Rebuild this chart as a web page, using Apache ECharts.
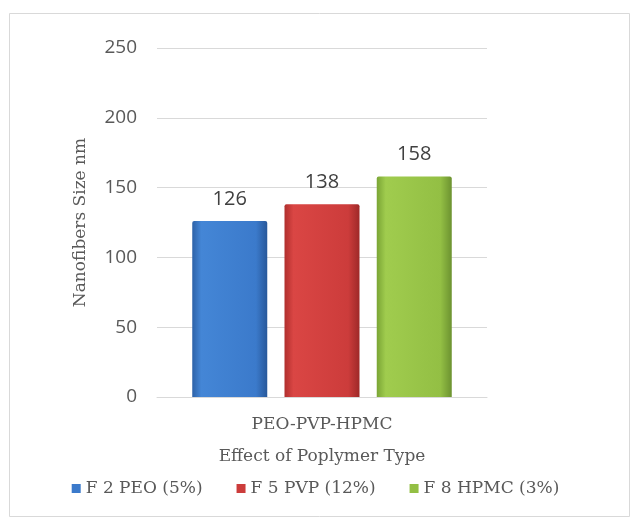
<!DOCTYPE html>
<html>
<head>
<meta charset="utf-8">
<script src="https://cdn.jsdelivr.net/npm/echarts@6/dist/echarts.min.js"></script>
<style>html,body{margin:0;padding:0;background:#fff;}#c{width:631px;height:518px;}</style>
</head>
<body>
<div id="c"></div>
<script>
const categories = ["PEO-PVP-HPMC"];
const seriesNames = ["F 2 PEO (5%)", "F 5 PVP (12%)", "F 8 HPMC (3%)"];
const peo = [126];
const pvp = [138];
const hpmc = [158];
const yTicks = [0, 50, 100, 150, 200, 250];

const serif = "'DejaVu Serif', serif";
const sans = "'Open Sans', 'DejaVu Sans', sans-serif";

function grad(edgeL, light, main, edgeR) {
  return new echarts.graphic.LinearGradient(0, 0, 1, 0, [
    {offset: 0, color: edgeL},
    {offset: 0.12, color: light},
    {offset: 0.85, color: main},
    {offset: 1, color: edgeR}
  ]);
}
const colors = [
  grad('#2d62a8', '#4486d6', '#3b7acb', '#28589a'),
  grad('#b02f2e', '#da4644', '#cc3c3b', '#9e2928'),
  grad('#7aa535', '#a0cc4e', '#93bf44', '#6c9230')
];
const legendColors = ['#3b7acb', '#cc3c3b', '#93bf44'];
const data = [peo, pvp, hpmc];

const chart = echarts.init(document.getElementById('c'));
chart.setOption({
  animation: false,
  backgroundColor: '#fff',
  graphic: [{
    type: 'rect', left: 7, top: 11,
    shape: {width: 620, height: 503},
    style: {fill: 'none', stroke: '#d9d9d9', lineWidth: 1},
    silent: true
  }],
  legend: {
    bottom: 16,
    left: 'center',
    itemWidth: 9, itemHeight: 9, itemGap: 34,
    icon: 'rect',
    textStyle: {fontFamily: serif, fontSize: 17, color: '#595959'},
    data: seriesNames.map((n, i) => ({name: n, itemStyle: {color: legendColors[i]}}))
  },
  grid: {left: 157, right: 144, top: 48, bottom: 121, containLabel: false},
  xAxis: {
    type: 'category',
    data: categories,
    name: 'Effect of Poplymer Type',
    nameLocation: 'middle',
    nameGap: 51,
    nameTextStyle: {fontFamily: serif, fontSize: 17, color: '#595959'},
    axisLine: {lineStyle: {color: '#d9d9d9'}},
    axisTick: {show: false},
    axisLabel: {fontFamily: serif, fontSize: 17, color: '#595959', margin: 19}
  },
  yAxis: {
    type: 'value',
    min: yTicks[0], max: yTicks[yTicks.length - 1], interval: 50,
    name: 'Nanofibers Size nm',
    nameLocation: 'middle',
    nameGap: 68,
    nameTextStyle: {fontFamily: serif, fontSize: 17, color: '#595959'},
    axisLine: {show: false},
    axisTick: {show: false},
    axisLabel: {fontFamily: sans, fontSize: 19, color: '#595959', margin: 20},
    splitLine: {lineStyle: {color: '#d9d9d9'}}
  },
  series: seriesNames.map((n, i) => ({
    name: n,
    type: 'bar',
    data: data[i],
    barWidth: 75,
    barGap: '23%',
    itemStyle: {color: colors[i], borderRadius: [2, 2, 0, 0]},
    label: {show: true, position: 'top', distance: 12, fontFamily: sans, fontSize: 20, color: '#404040'}
  }))
});
</script>
</body>
</html>
